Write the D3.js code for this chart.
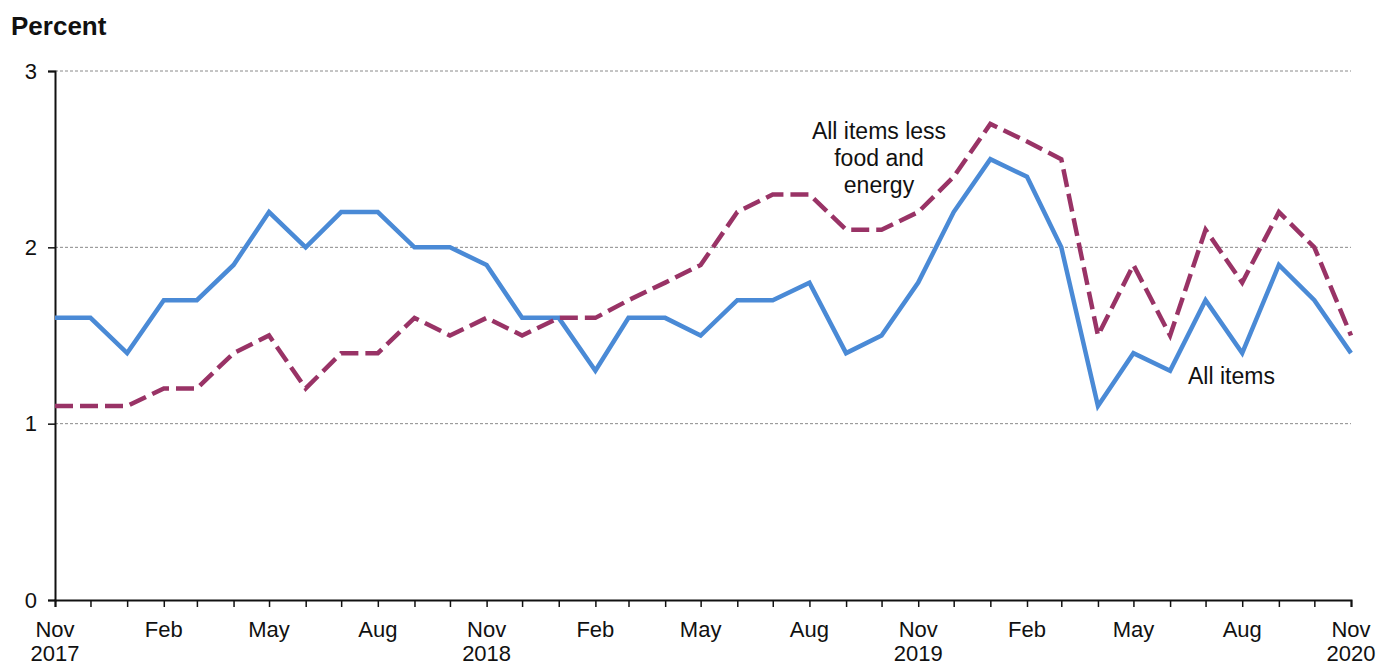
<!DOCTYPE html>
<html>
<head>
<meta charset="utf-8">
<script src="https://cdn.jsdelivr.net/npm/d3@7"></script>
<style>
  body { margin: 0; background: #fff; }
  text { font-family: "Liberation Sans", Arial, sans-serif; fill: #111; }
</style>
</head>
<body>
<svg id="chart" width="1382" height="666"></svg>
<script>
// monthly observations, Nov 2017 .. Nov 2020
const months = [
  "2017-11", "2017-12", "2018-01", "2018-02", "2018-03", "2018-04", "2018-05", "2018-06",
  "2018-07", "2018-08", "2018-09", "2018-10", "2018-11", "2018-12", "2019-01", "2019-02",
  "2019-03", "2019-04", "2019-05", "2019-06", "2019-07", "2019-08", "2019-09", "2019-10",
  "2019-11", "2019-12", "2020-01", "2020-02", "2020-03", "2020-04", "2020-05", "2020-06",
  "2020-07", "2020-08", "2020-09", "2020-10", "2020-11"
];
const allItems = [
  1.6, 1.6, 1.4, 1.7, 1.7, 1.9, 2.2, 2.0, 2.2, 2.2, 2.0, 2.0,
  1.9, 1.6, 1.6, 1.3, 1.6, 1.6, 1.5, 1.7, 1.7, 1.8, 1.4, 1.5,
  1.8, 2.2, 2.5, 2.4, 2.0, 1.1, 1.4, 1.3, 1.7, 1.4, 1.9, 1.7, 1.4
];
const lessFoodEnergy = [
  1.1, 1.1, 1.1, 1.2, 1.2, 1.4, 1.5, 1.2, 1.4, 1.4, 1.6, 1.5,
  1.6, 1.5, 1.6, 1.6, 1.7, 1.8, 1.9, 2.2, 2.3, 2.3, 2.1, 2.1,
  2.2, 2.4, 2.7, 2.6, 2.5, 1.5, 1.9, 1.5, 2.1, 1.8, 2.2, 2.0, 1.5
];
const yTicks = [0, 1, 2, 3];
const xTickLabels = ["Nov", "Feb", "May", "Aug", "Nov", "Feb", "May", "Aug", "Nov", "Feb", "May", "Aug", "Nov"];
const yearLabels = ["2017", "", "", "", "2018", "", "", "", "2019", "", "", "", "2020"];

const svg = d3.select("#chart");
const margin = {top: 71, right: 31, bottom: 66, left: 55};
const width = 1382 - margin.left - margin.right,
  height = 666 - margin.top - margin.bottom;

const parse = d3.timeParse("%Y-%m");
const dates = months.map(parse);

const x = d3.scaleTime()
  .domain(d3.extent(dates))
  .range([0, width]);
const y = d3.scaleLinear()
  .domain([0, 3])
  .range([height, 0]);

const g = svg.append("g")
  .attr("transform", "translate(" + margin.left + "," + margin.top + ")");

// gridlines
g.selectAll(".grid")
  .data(yTicks.filter(d => d > 0))
  .enter()
  .append("line")
  .attr("class", "grid")
  .attr("x1", 0)
  .attr("x2", width)
  .attr("y1", d => y(d))
  .attr("y2", d => y(d))
  .attr("stroke", "#8a8a8a")
  .attr("stroke-width", 1)
  .attr("stroke-dasharray", "3,2");

// y axis
const yAxis = g.append("g")
  .call(d3.axisLeft(y).tickValues(yTicks).tickFormat(d3.format("d")).tickSize(7).tickPadding(11));
yAxis.select(".domain").attr("stroke", "#111").attr("stroke-width", 2);
yAxis.selectAll(".tick line").attr("stroke", "#111").attr("stroke-width", 1.5);
yAxis.selectAll(".tick text")
  .attr("font-size", 22)
  .attr("font-family", "Liberation Sans, Arial, sans-serif")
  .attr("fill", "#111");

// x axis: a tick every month, label every third
const xAxis = g.append("g")
  .attr("transform", "translate(0," + height + ")")
  .call(d3.axisBottom(x).tickValues(dates).tickSize(7).tickFormat(""));
xAxis.select(".domain").attr("stroke", "#111").attr("stroke-width", 2);
xAxis.selectAll(".tick line").attr("stroke", "#111").attr("stroke-width", 1.5);

const labelDates = dates.filter((d, i) => i % 3 === 0);
const xl = g.append("g").attr("class", "xlabels");
xl.selectAll(".mon")
  .data(labelDates)
  .enter()
  .append("text")
  .attr("x", d => x(d))
  .attr("y", height + 37)
  .attr("text-anchor", "middle")
  .attr("font-size", 22)
  .text((d, i) => xTickLabels[i]);
xl.selectAll(".yr")
  .data(labelDates)
  .enter()
  .append("text")
  .attr("x", d => x(d))
  .attr("y", height + 61)
  .attr("text-anchor", "middle")
  .attr("font-size", 22)
  .text((d, i) => yearLabels[i]);

// lines
const line = d3.line()
  .x((d, i) => x(dates[i]))
  .y(d => y(d));

g.append("path")
  .datum(allItems)
  .attr("fill", "none")
  .attr("stroke", "#4a8ad6")
  .attr("stroke-width", 4.5)
  .attr("stroke-linejoin", "miter")
  .attr("d", line);

g.append("path")
  .datum(lessFoodEnergy)
  .attr("fill", "none")
  .attr("stroke", "#993366")
  .attr("stroke-width", 4.5)
  .attr("stroke-dasharray", "18,7")
  .attr("d", line);

// annotations
svg.append("text")
  .attr("x", 11)
  .attr("y", 35)
  .attr("font-size", 26)
  .attr("font-weight", "bold")
  .text("Percent");

const ann = svg.append("text")
  .attr("text-anchor", "middle")
  .attr("font-size", 23)
  .attr("fill", "#111");
["All items less", "food and", "energy"].forEach((t, i) => {
  ann.append("tspan")
    .attr("x", 879)
    .attr("y", 139 + i * 27)
    .text(t);
});

svg.append("text")
  .attr("x", 1188)
  .attr("y", 384)
  .attr("font-size", 23)
  .text("All items");
</script>
</body>
</html>
